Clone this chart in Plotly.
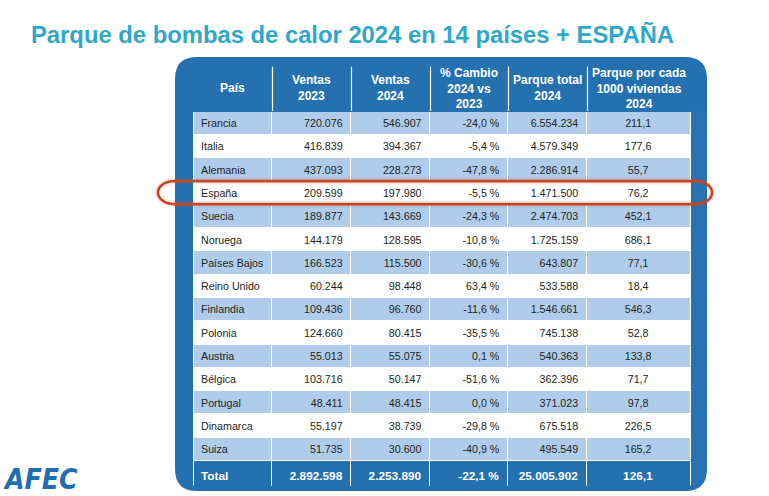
import numpy as np
import plotly.graph_objects as go

# ---------------- data ----------------
title_text = "Parque de bombas de calor 2024 en 14 países + ESPAÑA"
headers = ["País", "Ventas<br>2023", "Ventas<br>2024", "% Cambio<br>2024 vs<br>2023",
           "Parque total<br>2024", "Parque por cada<br>1000 viviendas<br>2024"]
paises = ["Francia", "Italia", "Alemania", "España", "Suecia", "Noruega", "Países Bajos",
          "Reino Unido", "Finlandia", "Polonia", "Austria", "Bélgica", "Portugal",
          "Dinamarca", "Suiza"]
ventas_2023 = [720076, 416839, 437093, 209599, 189877, 144179, 166523, 60244, 109436,
               124660, 55013, 103716, 48411, 55197, 51735]
ventas_2024 = [546907, 394367, 228273, 197980, 143669, 128595, 115500, 98448, 96760,
               80415, 55075, 50147, 48415, 38739, 30600]
cambio_pct = [-24.0, -5.4, -47.8, -5.5, -24.3, -10.8, -30.6, 63.4, -11.6, -35.5, 0.1,
              -51.6, 0.0, -29.8, -40.9]
parque_total = [6554234, 4579349, 2286914, 1471500, 2474703, 1725159, 643807, 533588,
                1546661, 745138, 540363, 362396, 371023, 675518, 495549]
parque_por_1000 = [211.1, 177.6, 55.7, 76.2, 452.1, 686.1, 77.1, 18.4, 546.3, 52.8,
                   133.8, 71.7, 97.8, 226.5, 165.2]
total_label = "Total"
total_ventas_2023 = 2892598
total_ventas_2024 = 2253890
total_cambio_pct = -22.1
total_parque = 25005902
total_por_1000 = 126.1
highlight_pais = "España"
logo_text = "AFEC"

# ---------------- style ----------------
W, H = 769, 496
DARK = "#2571b0"
LIGHT = "#afcdea"
WHITE = "#ffffff"
TEAL = "#2ea8c8"
RED = "#c8461f"
TXT = "#231f20"
FONT = "Liberation Sans, Arial, Helvetica, sans-serif"

tbl_x0, tbl_x1 = 193, 691
tbl_top = 64
header_h = 47
row_h = 23.3
colw = [79, 79, 79, 78, 79, 104]
aligns = ["left", "right", "right", "right", "right", "center"]


def fmt_int(v):
    return f"{v:,}".replace(",", ".")


def fmt_dec(v):
    return f"{v:.1f}".replace(".", ",")


def fmt_pct(v):
    return fmt_dec(v) + "\u00a0%"


def nb(s):
    return s.replace(" ", "\u00a0")


n = len(paises)
col_values = [
    [nb(p) for p in paises],
    [fmt_int(v) for v in ventas_2023],
    [fmt_int(v) for v in ventas_2024],
    [fmt_pct(v) for v in cambio_pct],
    [fmt_int(v) for v in parque_total],
    [fmt_dec(v) for v in parque_por_1000],
]
total_values = [f"<b>{total_label}</b>",
                f"<b>{fmt_int(total_ventas_2023)}</b>",
                f"<b>{fmt_int(total_ventas_2024)}</b>",
                f"<b>{fmt_pct(total_cambio_pct)}</b>",
                f"<b>{fmt_int(total_parque)}</b>",
                f"<b>{fmt_dec(total_por_1000)}</b>"]
row_fill = [LIGHT if i % 2 == 0 else WHITE for i in range(n)]
body_bottom = tbl_top + header_h + n * row_h

fig = go.Figure()

# pixel-mapped cartesian layer (for frame + highlight)
fig.add_trace(go.Scatter(x=[0], y=[0], mode="markers", marker=dict(opacity=0),
                         hoverinfo="skip", showlegend=False))

fig.add_trace(go.Table(
    domain=dict(x=[tbl_x0 / W, tbl_x1 / W],
                y=[1 - (body_bottom + 2) / H, 1 - tbl_top / H]),
    columnwidth=colw,
    header=dict(values=[""] * len(headers), height=header_h,
                fill=dict(color=DARK), line=dict(color=DARK, width=1)),
    cells=dict(values=col_values, height=row_h, align=aligns,
               fill=dict(color=[row_fill] * len(headers)),
               line=dict(color=WHITE, width=1),
               font=dict(family=FONT, size=10.7, color=TXT)),
))

# total row as a second table (header-only) directly below
fig.add_trace(go.Table(
    domain=dict(x=[tbl_x0 / W, tbl_x1 / W],
                y=[1 - (body_bottom + row_h + 2) / H, 1 - body_bottom / H]),
    columnwidth=colw,
    header=dict(values=total_values, height=row_h, align=aligns,
                fill=dict(color=DARK), line=dict(color=WHITE, width=1),
                font=dict(family=FONT, size=11.8, color=WHITE)),
    cells=dict(values=[[] for _ in headers]),
))

# header texts centred in each column + white separators
cum = np.concatenate([[0], np.cumsum(colw)])
scale = (tbl_x1 - tbl_x0) / cum[-1]
annotations = []
for i, h in enumerate(headers):
    xc = tbl_x0 + (cum[i] + cum[i + 1]) / 2 * scale
    annotations.append(dict(x=xc, y=tbl_top + header_h / 2 + 0.5, xref="x", yref="y",
                            text=f"<b>{h}</b>", showarrow=False, align="center",
                            font=dict(family=FONT, size=12, color=WHITE)))
for i in range(1, len(headers)):
    xs = round(tbl_x0 + cum[i] * scale) + 0.5
    annotations.append(dict(x=xs, y=tbl_top + header_h, ax=xs, ay=tbl_top + 1,
                            xref="x", yref="y", axref="x", ayref="y", text="",
                            showarrow=True, arrowhead=0, arrowwidth=1.2,
                            arrowcolor=WHITE, standoff=0, startstandoff=0))

annotations.append(dict(x=29, y=34, xref="x", yref="y", xanchor="left", yanchor="middle",
                        text=f"<b>{title_text}</b>", showarrow=False,
                        font=dict(family=FONT, size=23.8, color=TEAL)))
annotations.append(dict(x=1, y=479, xref="x", yref="y", xanchor="left", yanchor="middle",
                        text=f"<b><i>{logo_text}</i></b>", showarrow=False,
                        font=dict(family="Liberation Sans Narrow, DejaVu Sans Condensed, sans-serif",
                                  size=28, color="#1f6db4")))

# rounded frame
fx0, fy0, fx1, fy1, r = 175, 57, 707, 491, 22
frame_path = (f"M {fx0+r},{fy0} L {fx1-r},{fy0} Q {fx1},{fy0} {fx1},{fy0+r} "
              f"L {fx1},{fy1-r} Q {fx1},{fy1} {fx1-r},{fy1} L {fx0+r},{fy1} "
              f"Q {fx0},{fy1} {fx0},{fy1-r} L {fx0},{fy0+r} Q {fx0},{fy0} {fx0+r},{fy0} Z")

# highlight stadium around the selected country row
idx = paises.index(highlight_pais)
cy = tbl_top + header_h + (idx + 0.5) * row_h
hh, ex0, ex1, rx = 11.5, 158, 712, 16
t = np.linspace(-np.pi / 2, np.pi / 2, 24)
right = [(ex1 - rx + rx * np.cos(a), cy + hh * np.sin(a)) for a in t]
left = [(ex0 + rx - rx * np.cos(a), cy - hh * np.sin(a)) for a in t]
pts = [(ex0 + rx, cy - hh)] + right + left
hl_path = "M " + " L ".join(f"{x:.1f},{y:.1f}" for x, y in pts) + " Z"

fig.update_layout(
    width=W, height=H,
    margin=dict(l=0, r=0, t=0, b=0),
    paper_bgcolor="white", plot_bgcolor="rgba(0,0,0,0)",
    xaxis=dict(range=[0, W], visible=False, fixedrange=True),
    yaxis=dict(range=[H, 0], visible=False, fixedrange=True),
    showlegend=False,
    shapes=[dict(type="path", xref="x", yref="y", path=frame_path,
                 fillcolor=DARK, line=dict(width=0), layer="below")],
    selections=[dict(type="path", xref="x", yref="y", path=hl_path,
                     line=dict(color=RED, width=2.6, dash="solid"), opacity=1)],
    annotations=annotations,
    font=dict(family=FONT),
)

fig.write_html("out.html", config=dict(displayModeBar=False),
               post_script="document.body.style.margin='0px';")
